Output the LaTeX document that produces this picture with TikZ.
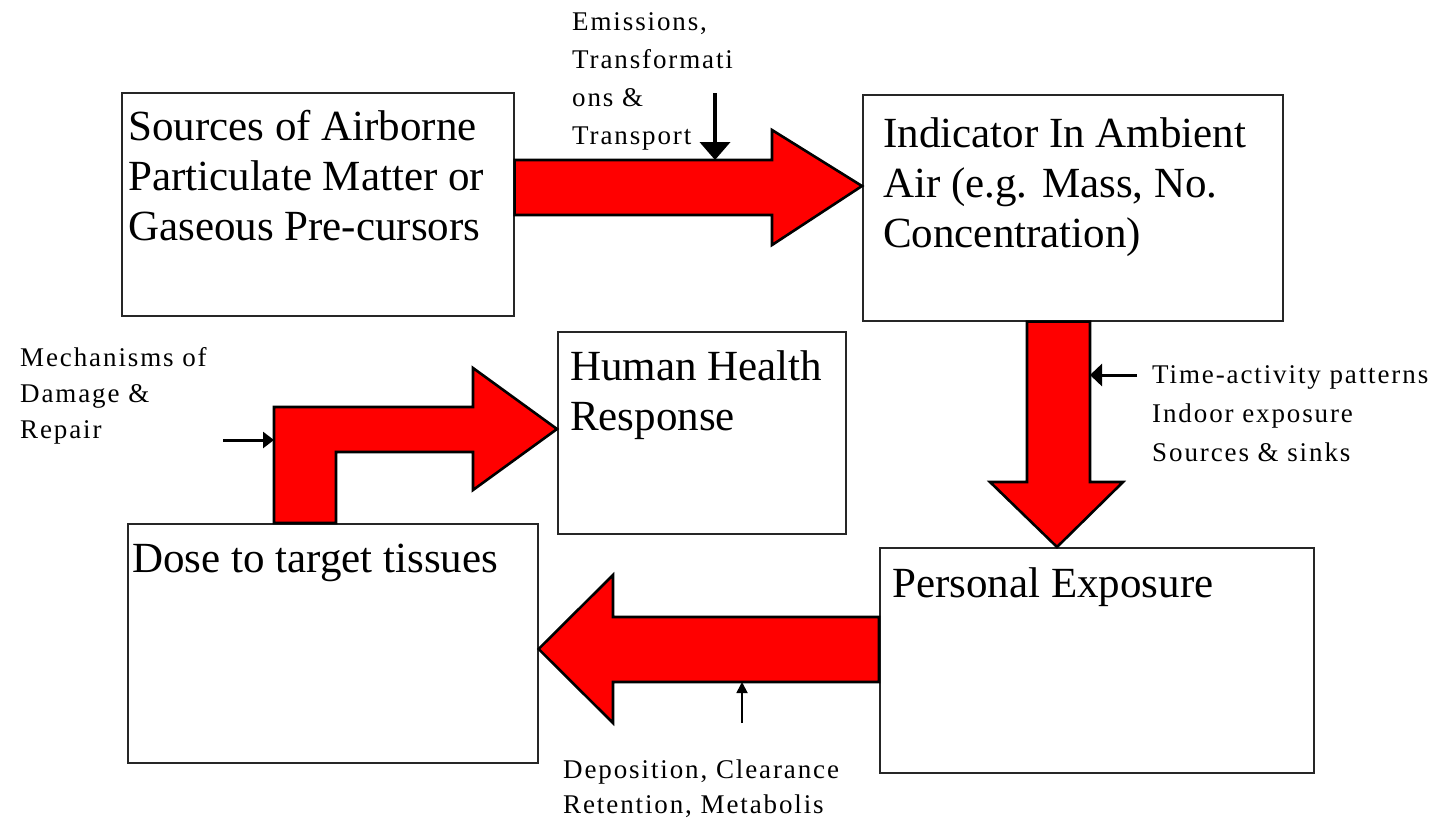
\documentclass[tikz,border=0pt]{standalone}
\usepackage{fontspec}
\setmainfont{Liberation Serif}
\newfontfamily\smallf[LetterSpace=7]{Liberation Serif}
\usetikzlibrary{arrows.meta}
\newcommand\mylines[1]{\begin{tabular}[t]{@{}l@{}}#1\end{tabular}}
\begin{document}
\begin{tikzpicture}[x=1pt,y=-1pt,
  box/.style={draw=black!85, line width=1.6pt, inner sep=0pt, anchor=north west},
  big/.style={font=\fontsize{43}{50}\selectfont, anchor=base west, inner sep=0pt},
  small/.style={font=\smallf\fontsize{27}{#1}\selectfont, anchor=base west, inner sep=0pt},
  small/.default=38,
  blockarrow/.style={fill=red, draw=black, line width=2.6pt, line join=miter},
  thinarrow/.style={draw=black, line width=#1}]
\useasboundingbox[fill=white] (0,0) rectangle (1445,823);

% boxes
\node[box, minimum width=392pt, minimum height=223pt] (src) at (121,92) {};
\node[box, minimum width=420pt, minimum height=226pt] (ind) at (862,94) {};
\node[box, minimum width=288pt, minimum height=202pt] (hhr) at (557,331) {};
\node[box, minimum width=410pt, minimum height=239pt] (dose) at (127,523) {};
\node[box, minimum width=434pt, minimum height=225pt] (pers) at (879,547) {};

% box texts
\node[big] (srcT) at (128,140) {\mylines{Sources of Airborne\\Particulate Matter or\\Gaseous Pre-cursors}};
\node[big] (indT) at (883,147) {\mylines{Indicator In Ambient\\Air (e.g. Mass, No.\\Concentration)}};
\node[big] (hhrT) at (570,380) {\mylines{Human Health\\Response}};
\node[big] (doseT) at (132,572) {Dose to target tissues};
\node[big] (persT) at (892,597) {Personal Exposure};

% block arrows
\coordinate (a1tip) at (ind.west |- 0,186);
\draw[blockarrow] (src.east |- 0,160) -- (772,160) -- (772,130) -- (a1tip)
  -- (772,245) -- (772,215) -- (src.east |- 0,215) -- cycle;

\coordinate (a2tip) at (1057,0 |- pers.north);
\draw[blockarrow] (1027,0 |- ind.south) -- (1090,0 |- ind.south) -- (1090,482) -- (1123,482)
  -- (a2tip) -- (990,482) -- (1027,482) -- cycle;

\coordinate (a3tip) at (dose.east |- 0,649);
\draw[blockarrow] (pers.west |- 0,617) -- (613,617) -- (613,575) -- (a3tip)
  -- (613,723) -- (613,682) -- (pers.west |- 0,682) -- cycle;

\coordinate (a4tip) at (hhr.west |- 0,429);
\draw[blockarrow] (274,0 |- dose.north) -- (274,407) -- (473,407) -- (473,368) -- (a4tip)
  -- (473,490) -- (473,452) -- (336,452) -- (336,0 |- dose.north) -- cycle;

% small labels
\node[small=38] (emT) at (572,30) {\mylines{Emissions,\\Transformati\\ons \&\\Transport}};
\node[small=39] (tiT) at (1152,383) {\mylines{Time-activity patterns\\Indoor exposure\\Sources \& sinks}};
\node[small=36] (meT) at (20,366) {\mylines{Mechanisms of\\Damage \&\\Repair}};
\node[small=35] (deT) at (563,778) {\mylines{Deposition, Clearance\\Retention, Metabolis}};

% thin arrows
\coordinate (e1) at (715,93);
\coordinate (e2) at (715,160);
\draw[thinarrow=4pt, -{Triangle[length=18pt,width=30pt]}] (e1) -- (e2);
\coordinate (t1) at (1137,375);
\coordinate (t2) at (1090,375);
\draw[thinarrow=3pt, -{Triangle[length=12pt,width=22pt]}] (t1) -- (t2);
\coordinate (m1) at (223,440);
\coordinate (m2) at (274,440);
\draw[thinarrow=3pt, -{Triangle[length=11pt,width=16pt]}] (m1) -- (m2);
\coordinate (d1) at (742,723);
\coordinate (d2) at (742,682);
\draw[thinarrow=1.8pt, -{Triangle[length=11pt,width=11pt]}] (d1) -- (d2);
\end{tikzpicture}
\end{document}
